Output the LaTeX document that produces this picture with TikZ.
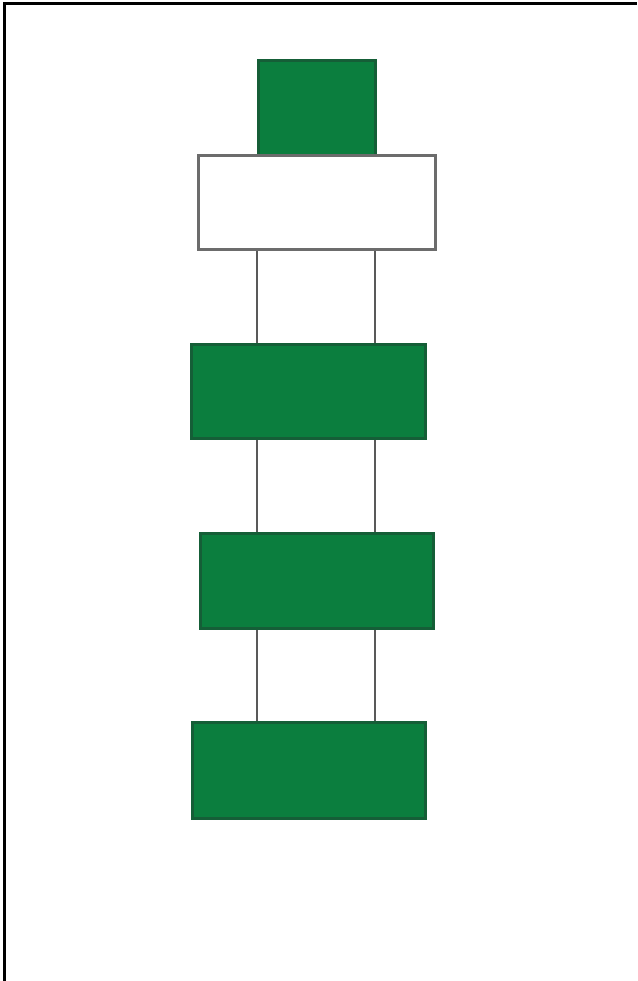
\documentclass[tikz,border=0pt]{standalone}
\begin{document}
\begin{tikzpicture}[x=1pt,y=-1pt,
  greenbox/.style={draw=boxedge,fill=boxgreen,line width=3pt},
  whitebox/.style={draw=gray!85!black,fill=white,line width=3pt},
  rod/.style={draw=gray!70!black,line width=1.8pt}]
\definecolor{boxgreen}{HTML}{0B7E3E}
\definecolor{boxedge}{HTML}{155E37}
\useasboundingbox (0,0) rectangle (637,981);
\fill[white] (0,0) rectangle (637,981);
\draw[line width=3pt] (4,981) -- (4,4) -- (637,4);
% rods
\draw[rod] (257,250) -- (257,344);
\draw[rod] (375,250) -- (375,344);
\draw[rod] (257,438) -- (257,533);
\draw[rod] (375,438) -- (375,533);
\draw[rod] (257,628) -- (257,722);
\draw[rod] (375,628) -- (375,722);
% boxes
\draw[greenbox] (258,61) rectangle (375,156);
\draw[whitebox] (198,156) rectangle (435,250);
\draw[greenbox] (191,344) rectangle (425,438);
\draw[greenbox] (200,533) rectangle (433,628);
\draw[greenbox] (192,722) rectangle (425,818);
\end{tikzpicture}
\end{document}
